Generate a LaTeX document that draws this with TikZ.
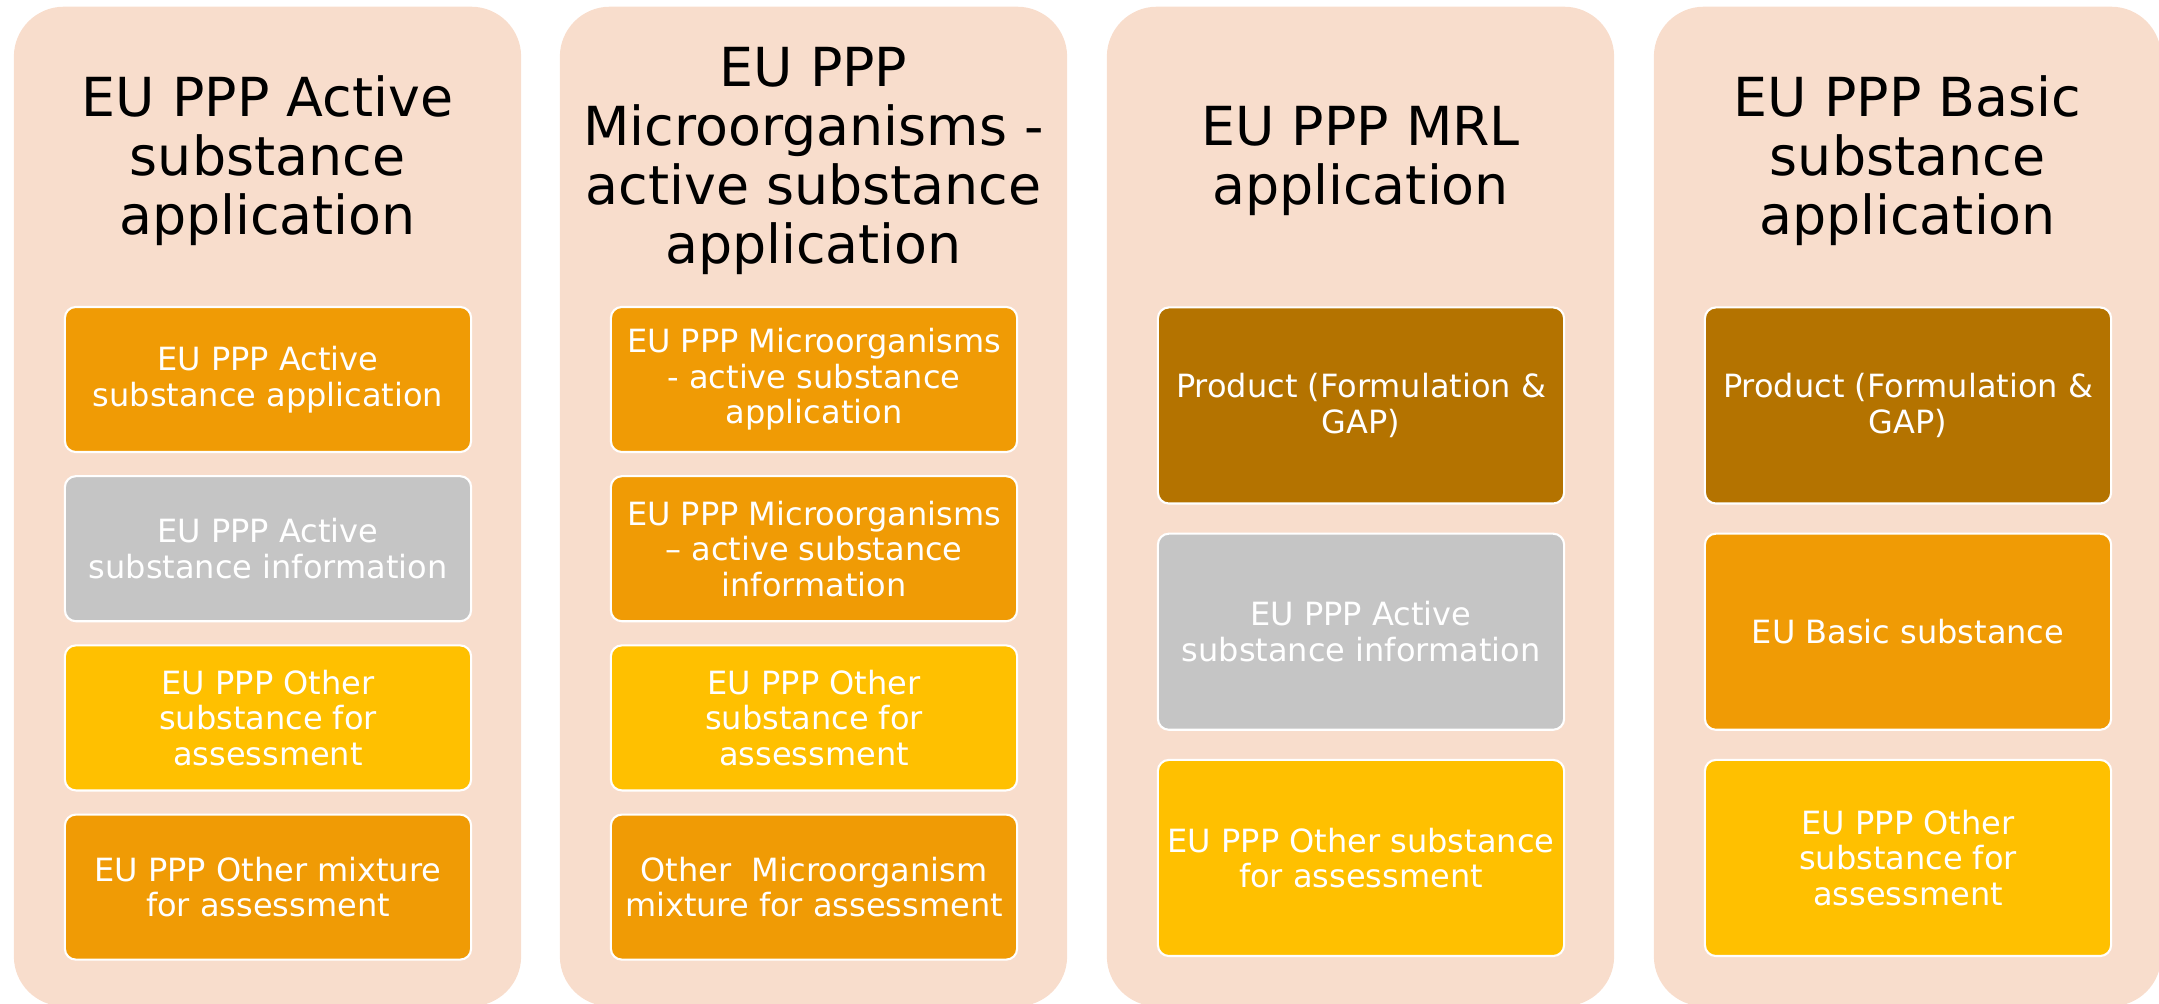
\documentclass[tikz,border=0pt]{standalone}
\usepackage{fontspec}
\setmainfont{DejaVu Sans}
\usetikzlibrary{positioning}
\definecolor{panelpeach}{RGB}{248,221,204}
\definecolor{ppporange}{RGB}{240,155,5}
\definecolor{pppgray}{RGB}{197,197,197}
\definecolor{pppyellow}{RGB}{255,192,0}
\definecolor{pppbrown}{RGB}{180,115,0}

\begin{document}
\begin{tikzpicture}[x=0.01cm, y=-0.01cm,
    panel/.style={fill=panelpeach, rounded corners=0.5cm, minimum width=5.07cm, minimum height=9.99cm, inner sep=0pt},
    paneltitle/.style={align=center, font=\fontsize{15.3}{16.8}\selectfont},
    smallbox/.style={draw=white, line width=0.6pt, rounded corners=0.11cm, minimum width=4.06cm, minimum height=1.45cm,
        align=center, text=white, inner sep=0pt, font=\fontsize{9.1}{10.1}\selectfont},
    bigbox/.style={smallbox, minimum height=1.96cm}]
    \useasboundingbox (0,0) rectangle (2159,1004);

    % Panels and titles
    \foreach \c/\cx/\title in {1/267.5/{EU PPP Active\\substance\\application},
        2/813.5/{EU PPP\\Microorganisms -\\active substance\\application},
        3/1360.5/{EU PPP MRL\\application},
        4/1907.5/{EU PPP Basic\\substance\\application}} {
        \node[panel] (panel\c) at (\cx, 506.5) {};
        \node[paneltitle] (title\c) at (\cx, 161) {\title};
    }

    % Active substance application
    \node[smallbox, fill=ppporange] (as1) at (268, 379.5) {EU PPP Active\\substance application};
    \node[smallbox, fill=pppgray, below=0.22cm of as1] (as2) {EU PPP Active\\substance information};
    \node[smallbox, fill=pppyellow, below=0.22cm of as2] (as3) {EU PPP Other\\substance for\\assessment};
    \node[smallbox, fill=ppporange, below=0.22cm of as3] (as4) {EU PPP Other mixture\\for assessment};

    % Microorganisms
    \node[smallbox, fill=ppporange] (mo1) at (814, 379.5) {EU PPP Microorganisms\\- active substance\\application};
    \node[smallbox, fill=ppporange, below=0.22cm of mo1] (mo2) {EU PPP Microorganisms\\– active substance\\information};
    \node[smallbox, fill=pppyellow, below=0.22cm of mo2] (mo3) {EU PPP Other\\substance for\\assessment};
    \node[smallbox, fill=ppporange, below=0.22cm of mo3] (mo4) {Other\ \ Microorganism\\mixture for assessment};

    % MRL application
    \node[bigbox, fill=pppbrown] (mrl1) at (1361, 405.5) {Product (Formulation \&\\GAP)};
    \node[bigbox, fill=pppgray, below=0.28cm of mrl1] (mrl2) {EU PPP Active\\substance information};
    \node[bigbox, fill=pppyellow, below=0.28cm of mrl2] (mrl3) {EU PPP Other substance\\for assessment};

    % Basic substance application
    \node[bigbox, fill=pppbrown] (bs1) at (1908, 405.5) {Product (Formulation \&\\GAP)};
    \node[bigbox, fill=ppporange, below=0.28cm of bs1] (bs2) {EU Basic substance};
    \node[bigbox, fill=pppyellow, below=0.28cm of bs2] (bs3) {EU PPP Other\\substance for\\assessment};

\end{tikzpicture}
\end{document}
